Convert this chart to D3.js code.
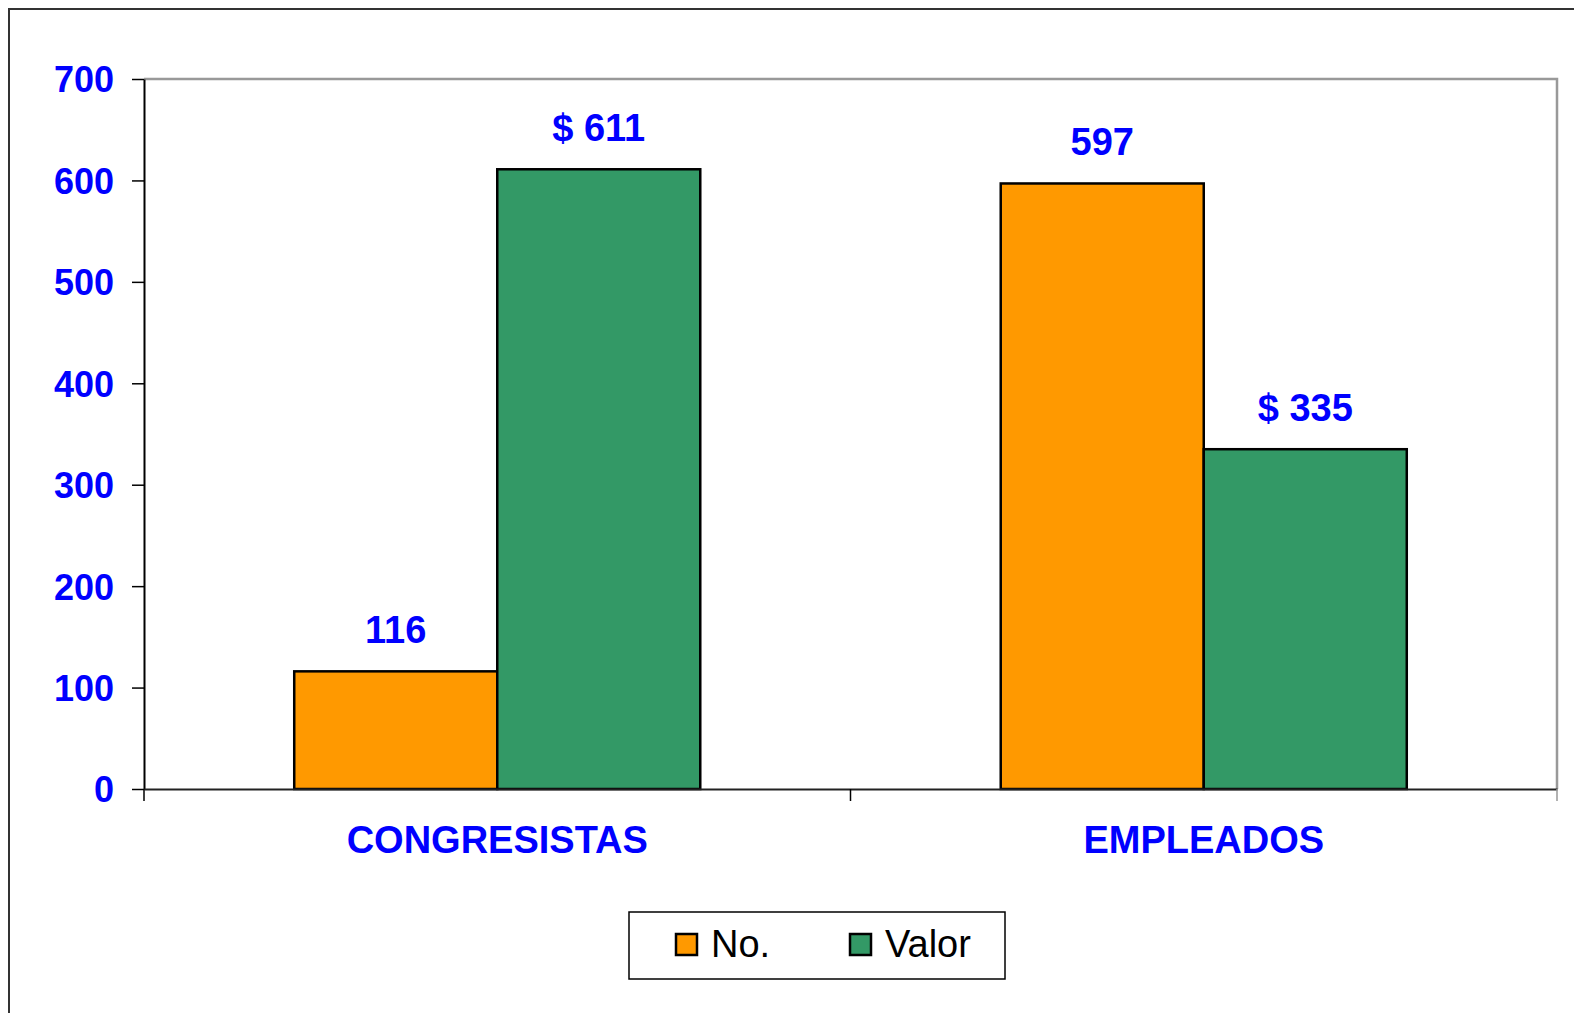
<!DOCTYPE html>
<html>
<head>
<meta charset="utf-8">
<script src="https://cdn.jsdelivr.net/npm/d3@7"></script>
<style>
  html, body { margin: 0; padding: 0; background: #fff; }
  svg { display: block; font-family: "Liberation Sans", Arial, sans-serif; }
</style>
</head>
<body>
<div id="chart"></div>
<script>
const categories = ['CONGRESISTAS', 'EMPLEADOS'];
const seriesNames = ['No.', 'Valor'];
const noValues = [116, 597];
const valorValues = [611, 335];
const valuePrefix = ['', '$ '];
const yTicks = [0, 100, 200, 300, 400, 500, 600, 700];
const colors = ['#FF9900', '#339966'];

const width = 1574, height = 1013;
const plot = { left: 144, top: 79, right: 1557, bottom: 789 };
const blue = '#0000FF';

const svg = d3.select('#chart').append('svg')
    .attr('width', width)
    .attr('height', height);

// outer frame (runs off the right/bottom edge like the original)
svg.append('rect')
    .attr('x', 9).attr('y', 9)
    .attr('width', width + 20).attr('height', height + 20)
    .attr('fill', 'none')
    .attr('stroke', '#333')
    .attr('stroke-width', 2);

const x0 = d3.scaleBand()
    .domain(categories)
    .range([plot.left, plot.right])
    .padding(0);

const x1 = d3.scaleBand()
    .domain(seriesNames)
    .range([0, x0.bandwidth()])
    .paddingInner(0)
    .paddingOuter(0.74);

const y = d3.scaleLinear()
    .domain([0, 700])
    .range([plot.bottom, plot.top]);

// plot area frame, top and right in grey
svg.append('path')
    .attr('d', `M${plot.left},${plot.top}H${plot.right}V${plot.bottom}`)
    .attr('fill', 'none')
    .attr('stroke', '#999')
    .attr('stroke-width', 2.5);

// bars
const rows = categories.map((c, i) => ({
    cat: c,
    vals: [noValues[i], valorValues[i]]
}));

const groups = svg.selectAll('g.cat')
    .data(rows)
    .join('g')
    .attr('class', 'cat')
    .attr('transform', d => `translate(${x0(d.cat)},0)`);

groups.selectAll('rect')
    .data(d => d.vals.map((v, j) => ({ s: seriesNames[j], v: v, j: j })))
    .join('rect')
    .attr('x', d => x1(d.s))
    .attr('y', d => y(d.v))
    .attr('width', x1.bandwidth())
    .attr('height', d => y(0) - y(d.v))
    .attr('fill', d => colors[d.j])
    .attr('stroke', '#000')
    .attr('stroke-width', 2.5);

groups.selectAll('text.val')
    .data(d => d.vals.map((v, j) => ({ s: seriesNames[j], v: v, j: j })))
    .join('text')
    .attr('class', 'val')
    .attr('x', d => x1(d.s) + x1.bandwidth() / 2)
    .attr('y', d => y(d.v) - 28)
    .attr('text-anchor', 'middle')
    .attr('fill', blue)
    .attr('font-size', 38)
    .attr('font-weight', 'bold')
    .text(d => valuePrefix[d.j] + d.v);

// y axis
const yAxis = svg.append('g')
    .attr('transform', `translate(${plot.left},0)`)
    .call(d3.axisLeft(y).tickValues(yTicks).tickSize(12).tickSizeOuter(0).tickPadding(18));
yAxis.select('.domain').attr('stroke', '#000').attr('stroke-width', 2);
yAxis.selectAll('.tick line').attr('stroke', '#000').attr('stroke-width', 1.5);
yAxis.selectAll('.tick text')
    .attr('fill', blue)
    .attr('font-size', 36)
    .attr('font-weight', 'bold')
    .attr('font-family', '"Liberation Sans", Arial, sans-serif')
    .attr('dy', '0.36em');

// x axis
const xAxis = svg.append('g')
    .attr('transform', `translate(0,${plot.bottom})`)
    .call(d3.axisBottom(x0).tickSize(0).tickPadding(37));
xAxis.select('.domain').attr('stroke', '#222').attr('stroke-width', 2);
xAxis.selectAll('.tick text')
    .attr('fill', blue)
    .attr('font-size', 38)
    .attr('font-weight', 'bold')
    .attr('font-family', '"Liberation Sans", Arial, sans-serif');

// category separators on the x axis
const sepX = [plot.left, x0(categories[1]), plot.right];
svg.selectAll('line.sep')
    .data(sepX)
    .join('line')
    .attr('class', 'sep')
    .attr('x1', d => d).attr('x2', d => d)
    .attr('y1', plot.bottom).attr('y2', plot.bottom + 12)
    .attr('stroke', (d, i) => i === 2 ? '#999' : '#000')
    .attr('stroke-width', 1.5);

// legend
const legend = svg.append('g').attr('transform', 'translate(629,912)');
legend.append('rect')
    .attr('width', 376).attr('height', 67)
    .attr('fill', '#fff')
    .attr('stroke', '#000')
    .attr('stroke-width', 1.5);

const legX = [47, 221];
const items = legend.selectAll('g.item')
    .data(seriesNames)
    .join('g')
    .attr('class', 'item')
    .attr('transform', (d, i) => `translate(${legX[i]},0)`);

items.append('rect')
    .attr('x', 0).attr('y', 22)
    .attr('width', 21).attr('height', 21)
    .attr('fill', (d, i) => colors[i])
    .attr('stroke', '#000')
    .attr('stroke-width', 2.5);

items.append('text')
    .attr('x', 35).attr('y', 45)
    .attr('font-size', 38)
    .attr('fill', '#000')
    .text(d => d);
</script>
</body>
</html>
